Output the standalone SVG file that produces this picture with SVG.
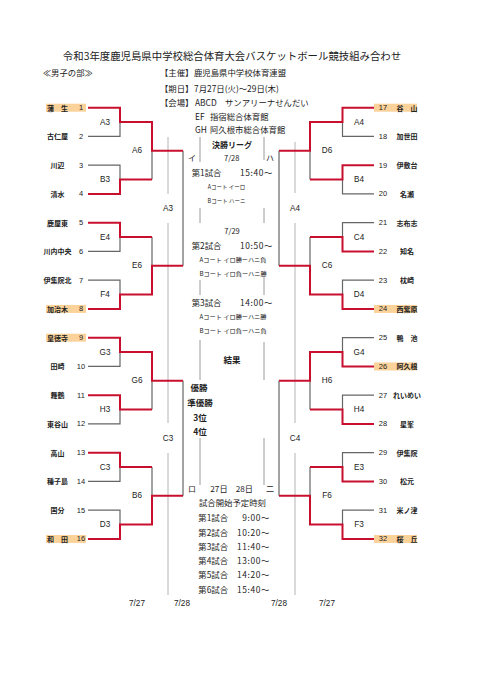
<svg xmlns="http://www.w3.org/2000/svg" width="481" height="680" viewBox="0 0 481 680">
<style>
.g{fill:none;stroke:#666;stroke-width:1.2}
.r{fill:none;stroke:#c8102e;stroke-width:2}
.d{fill:none;stroke:#b4b4b4;stroke-width:1}
.c{fill:none;stroke:#9a9a9a;stroke-width:1}
text{fill:#222;dominant-baseline:central}
.jp{font-family:"Noto Sans CJK JP","Noto Sans",sans-serif}
.b{font-weight:bold}
.nm{font-family:"Noto Sans CJK JP",sans-serif;font-weight:bold;font-size:7px;text-anchor:middle}
.no{font-family:"Liberation Sans",Arial,sans-serif;font-size:7.5px;text-anchor:middle}
.lb{font-family:"Liberation Sans",Arial,sans-serif;font-size:8.2px;text-anchor:middle}
.m{text-anchor:middle}
.e{text-anchor:end}
.hl{fill:#fbd29a}
</style>

<g id="header" class="jp">
<text x="232" y="55" font-size="10.4" class="m">令和3年度鹿児島県中学校総合体育大会バスケットボール競技組み合わせ</text>
<text x="42.7" y="72.3" font-size="8.4">≪男子の部≫</text>
<text x="160" y="72.3" font-size="8.4">【主催】</text>
<text x="194" y="72.3" font-size="8.4">鹿児島県中学校体育連盟</text>
<text x="160" y="87.7" font-size="8.4">【期日】</text>
<text x="194" y="87.7" font-size="8.4">7月27日(火)～29日(木)</text>
<text x="160" y="101.7" font-size="8.4">【会場】</text>
<text x="195" y="101.7" font-size="8.4">ABCD</text>
<text x="225" y="101.7" font-size="8.4">サンアリーナせんだい</text>
<text x="195" y="115.7" font-size="8.4">EF</text>
<text x="210" y="115.7" font-size="8.4">指宿総合体育館</text>
<text x="195" y="129.3" font-size="8.4">GH</text>
<text x="210" y="129.3" font-size="8.4">阿久根市総合体育館</text>
</g>

<g id="connectors">
<!-- date separators -->
<path class="d" d="M168,137V194M168,223V423M168,453V595M295,142V193M295,223V423M295,453V595"/>
<!-- center box lines -->
<path class="c" d="M200,137V162M200,208V223M200,280V295M200,340V380M200,438V485M264,137V160M264,208V223M264,276V295M264,342V380M264,438V485"/>
<!-- gray (losers / pending) -->
<path class="g" d="
M88,136.45H120V122.1
M88,165.2H120V179.6
M88,251.45H120V237.1
M88,280.2H120V294.6
M88,366.45H120V352.1
M88,423.95H120V409.6
M88,481.45H120V467.1
M88,510.2H120V524.6
M152,179.6V150.85
M152,237.1V265.85
M152,409.6V380.85
M152,467.1V495.85
M183,150.85V265.85
M183,380.85V495.85
M374,136.45H342.5V122.1
M374,193.95H342.5V179.6
M374,222.7H342.5V237.1
M374,280.2H342.5V294.6
M374,337.7H342.5V352.1
M374,395.2H342.5V409.6
M374,452.7H342.5V467.1
M374,510.2H342.5V524.6
M310,179.6V150.85
M310,237.1V265.85
M310,409.6V380.85
M310,467.1V495.85
M279,150.85V265.85
M279,380.85V495.85"/>
<!-- red (winners) -->
<path class="r" d="
M88,107.7H120V122.1H152V150.85H183
M88,193.95H120V179.6H152
M88,222.7H120V237.1H152
M88,308.95H120V294.6H152V265.85H183
M88,337.7H120V352.1H152V380.85H183
M88,395.2H120V409.6H152
M88,452.7H120V467.1H152
M88,538.95H120V524.6H152V495.85H183
M374,107.7H342.5V122.1H310V150.85H279
M374,165.2H342.5V179.6H310
M374,251.45H342.5V237.1H310
M374,308.95H342.5V294.6H310V265.85H279
M374,366.45H342.5V352.1H310V380.85H279
M374,423.95H342.5V409.6H310
M374,481.45H342.5V467.1H310
M374,538.95H342.5V524.6H310V495.85H279"/>
</g>

<g id="left-teams">
<rect class="hl" x="46" y="103.7" width="40" height="8"/>
<rect class="hl" x="46" y="304.95" width="40" height="8"/>
<rect class="hl" x="46" y="333.7" width="40" height="8"/>
<rect class="hl" x="46" y="534.95" width="40" height="8"/>
<g id="t1"><text class="nm" x="57.5" y="107.7">蒲　生</text><text class="no" x="81" y="107.7">1</text></g>
<g id="t2"><text class="nm" x="57.5" y="136.45">古仁屋</text><text class="no" x="81" y="136.45">2</text></g>
<g id="t3"><text class="nm" x="57.5" y="165.2">川辺</text><text class="no" x="81" y="165.2">3</text></g>
<g id="t4"><text class="nm" x="57.5" y="193.95">清水</text><text class="no" x="81" y="193.95">4</text></g>
<g id="t5"><text class="nm" x="57.5" y="222.7">鹿屋東</text><text class="no" x="81" y="222.7">5</text></g>
<g id="t6"><text class="nm" x="57.5" y="251.45">川内中央</text><text class="no" x="81" y="251.45">6</text></g>
<g id="t7"><text class="nm" x="57.5" y="280.2">伊集院北</text><text class="no" x="81" y="280.2">7</text></g>
<g id="t8"><text class="nm" x="57.5" y="308.95">加治木</text><text class="no" x="81" y="308.95">8</text></g>
<g id="t9"><text class="nm" x="57.5" y="337.7">皇徳寺</text><text class="no" x="81" y="337.7">9</text></g>
<g id="t10"><text class="nm" x="57.5" y="366.45">田崎</text><text class="no" x="81" y="366.45">10</text></g>
<g id="t11"><text class="nm" x="57.5" y="395.2">舞鶴</text><text class="no" x="81" y="395.2">11</text></g>
<g id="t12"><text class="nm" x="57.5" y="423.95">東谷山</text><text class="no" x="81" y="423.95">12</text></g>
<g id="t13"><text class="nm" x="57.5" y="452.7">高山</text><text class="no" x="81" y="452.7">13</text></g>
<g id="t14"><text class="nm" x="57.5" y="481.45">種子島</text><text class="no" x="81" y="481.45">14</text></g>
<g id="t15"><text class="nm" x="57.5" y="510.2">国分</text><text class="no" x="81" y="510.2">15</text></g>
<g id="t16"><text class="nm" x="57.5" y="538.95">和　田</text><text class="no" x="81" y="538.95">16</text></g>
</g>

<g id="right-teams">
<rect class="hl" x="374" y="103.7" width="43" height="8"/>
<rect class="hl" x="374" y="304.95" width="43" height="8"/>
<rect class="hl" x="374" y="362.45" width="43" height="8"/>
<rect class="hl" x="374" y="534.95" width="43" height="8"/>
<g id="t17"><text class="no" x="383" y="107.7">17</text><text class="nm" x="407" y="107.7">谷　山</text></g>
<g id="t18"><text class="no" x="383" y="136.45">18</text><text class="nm" x="407" y="136.45">加世田</text></g>
<g id="t19"><text class="no" x="383" y="165.2">19</text><text class="nm" x="407" y="165.2">伊敷台</text></g>
<g id="t20"><text class="no" x="383" y="193.95">20</text><text class="nm" x="407" y="193.95">名瀬</text></g>
<g id="t21"><text class="no" x="383" y="222.7">21</text><text class="nm" x="407" y="222.7">志布志</text></g>
<g id="t22"><text class="no" x="383" y="251.45">22</text><text class="nm" x="407" y="251.45">知名</text></g>
<g id="t23"><text class="no" x="383" y="280.2">23</text><text class="nm" x="407" y="280.2">枕崎</text></g>
<g id="t24"><text class="no" x="383" y="308.95">24</text><text class="nm" x="407" y="308.95">西紫原</text></g>
<g id="t25"><text class="no" x="383" y="337.7">25</text><text class="nm" x="407" y="337.7">鴨　池</text></g>
<g id="t26"><text class="no" x="383" y="366.45">26</text><text class="nm" x="407" y="366.45">阿久根</text></g>
<g id="t27"><text class="no" x="383" y="395.2">27</text><text class="nm" x="407" y="395.2">れいめい</text></g>
<g id="t28"><text class="no" x="383" y="423.95">28</text><text class="nm" x="407" y="423.95">星峯</text></g>
<g id="t29"><text class="no" x="383" y="452.7">29</text><text class="nm" x="407" y="452.7">伊集院</text></g>
<g id="t30"><text class="no" x="383" y="481.45">30</text><text class="nm" x="407" y="481.45">松元</text></g>
<g id="t31"><text class="no" x="383" y="510.2">31</text><text class="nm" x="407" y="510.2">米ノ津</text></g>
<g id="t32"><text class="no" x="383" y="538.95">32</text><text class="nm" x="407" y="538.95">桜　丘</text></g>
</g>

<g id="match-labels">
<text class="lb" x="105" y="122.1">A3</text>
<text class="lb" x="105" y="179.6">B3</text>
<text class="lb" x="105" y="237.1">E4</text>
<text class="lb" x="105" y="294.6">F4</text>
<text class="lb" x="105" y="352.1">G3</text>
<text class="lb" x="105" y="409.6">H3</text>
<text class="lb" x="105" y="467.1">C3</text>
<text class="lb" x="105" y="524.6">D3</text>
<text class="lb" x="137" y="150.85">A6</text>
<text class="lb" x="137" y="265.85">E6</text>
<text class="lb" x="137" y="380.85">G6</text>
<text class="lb" x="137" y="495.85">B6</text>
<text class="lb" x="168" y="208">A3</text>
<text class="lb" x="168" y="438">C3</text>
<text class="lb" x="359" y="122.1">A4</text>
<text class="lb" x="359" y="179.6">B4</text>
<text class="lb" x="359" y="237.1">C4</text>
<text class="lb" x="359" y="294.6">D4</text>
<text class="lb" x="359" y="352.1">G4</text>
<text class="lb" x="359" y="409.6">H4</text>
<text class="lb" x="359" y="467.1">E3</text>
<text class="lb" x="359" y="524.6">F3</text>
<text class="lb" x="327" y="150.85">D6</text>
<text class="lb" x="327" y="265.85">C6</text>
<text class="lb" x="327" y="380.85">H6</text>
<text class="lb" x="327" y="495.85">F6</text>
<text class="lb" x="295" y="208">A4</text>
<text class="lb" x="295" y="438">C4</text>
</g>

<g id="final-league" class="jp">
<text x="232" y="144.3" font-size="8" class="m b">決勝リーグ</text>
<text x="192" y="157" font-size="8" class="m">イ</text>
<text x="231.7" y="157" font-size="7.5" class="m">7/28</text>
<text x="270" y="157" font-size="8" class="m">ハ</text>
<text x="191.7" y="172.3" font-size="8.4">第1試合</text>
<text x="273" y="172.3" font-size="8.4" class="e" letter-spacing="0.6">15:40～</text>
<text x="226.5" y="186.7" font-size="5.5" class="m">Aコート イーロ</text>
<text x="226.5" y="201" font-size="5.5" class="m">Bコート ハーニ</text>
<text x="232" y="230" font-size="7.5" class="m">7/29</text>
<text x="191.7" y="245" font-size="8.4">第2試合</text>
<text x="273" y="245" font-size="8.4" class="e" letter-spacing="0.6">10:50～</text>
<text x="233" y="259" font-size="6.2" class="m">Aコート イロ勝ーハニ負</text>
<text x="233" y="273.3" font-size="6.2" class="m">Bコート イロ負ーハニ勝</text>
<text x="191.7" y="302.3" font-size="8.4">第3試合</text>
<text x="273" y="302.3" font-size="8.4" class="e" letter-spacing="0.6">14:00～</text>
<text x="233" y="316.7" font-size="6.2" class="m">Aコート イロ勝ーハニ勝</text>
<text x="233" y="330.7" font-size="6.2" class="m">Bコート イロ負ーハニ負</text>
<text x="232" y="359.3" font-size="8.5" class="m b">結果</text>
<text x="199" y="387" font-size="8.5" class="m b">優勝</text>
<text x="200" y="402.3" font-size="8.5" class="m b">準優勝</text>
<text x="200" y="416.7" font-size="8.5" class="m b">3位</text>
<text x="200" y="431" font-size="8.5" class="m b">4位</text>
<text x="192" y="488" font-size="8" class="m">ロ</text>
<text x="231.7" y="488" font-size="8.2" class="m">27日　28日</text>
<text x="270" y="488" font-size="8" class="m">二</text>
<text x="232.5" y="502.3" font-size="8.4" class="m">試合開始予定時刻</text>
<text x="198.3" y="517.3" font-size="8.4">第1試合</text>
<text x="270" y="517.3" font-size="8.4" class="e" letter-spacing="0.6">9:00～</text>
<text x="198.3" y="531.7" font-size="8.4">第2試合</text>
<text x="270" y="531.7" font-size="8.4" class="e" letter-spacing="0.6">10:20～</text>
<text x="198.3" y="545.7" font-size="8.4">第3試合</text>
<text x="270" y="545.7" font-size="8.4" class="e" letter-spacing="0.6">11:40～</text>
<text x="198.3" y="560" font-size="8.4">第4試合</text>
<text x="270" y="560" font-size="8.4" class="e" letter-spacing="0.6">13:00～</text>
<text x="198.3" y="574.3" font-size="8.4">第5試合</text>
<text x="270" y="574.3" font-size="8.4" class="e" letter-spacing="0.6">14:20～</text>
<text x="198.3" y="588.7" font-size="8.4">第6試合</text>
<text x="270" y="588.7" font-size="8.4" class="e" letter-spacing="0.6">15:40～</text>
</g>

<g id="dates">
<text class="lb" x="137" y="603" font-size="7.5">7/27</text>
<text class="lb" x="182" y="603" font-size="7.5">7/28</text>
<text class="lb" x="279" y="603" font-size="7.5">7/28</text>
<text class="lb" x="327" y="603" font-size="7.5">7/27</text>
</g>
</svg>
